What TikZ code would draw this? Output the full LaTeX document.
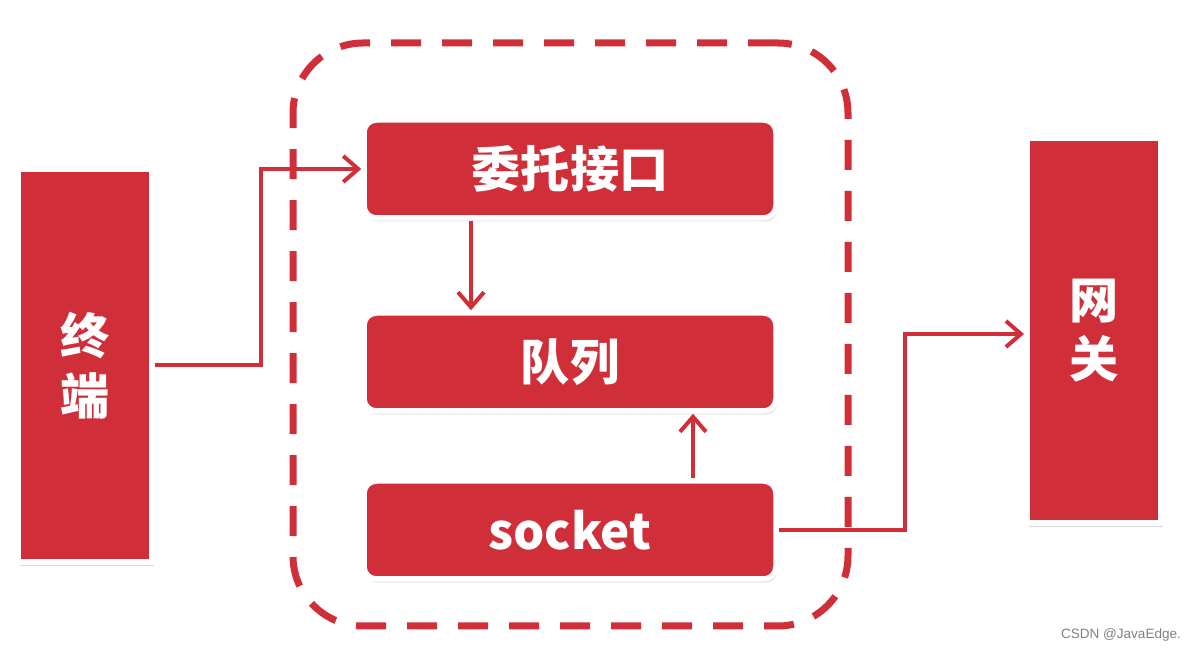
\documentclass[tikz,border=0pt]{standalone}
\usepackage{fontspec}
\usepackage{xcolor}
\usepackage{tikz}
\usetikzlibrary{arrows.meta, positioning, shadows}
\newfontfamily\cjk{Noto Sans CJK SC}
\newfontfamily\wmfont{Liberation Sans}
\definecolor{boxred}{RGB}{208,47,57}

\begin{document}
\begin{tikzpicture}[
  endbox/.style={rectangle, draw=white, line width=0.12cm, fill=boxred, minimum width=2.68cm, align=center, text=white, font=\cjk\bfseries\fontsize{28}{34}\selectfont, drop shadow={shadow xshift=0.03cm, shadow yshift=-0.08cm, opacity=0.3}},
  stage/.style={rectangle, draw=white, line width=0.11cm, rounded corners=7pt, fill=boxred, minimum width=8.24cm, minimum height=1.96cm, align=center, text=white, font=\cjk\bfseries\fontsize{28}{34}\selectfont, drop shadow={shadow xshift=0.03cm, shadow yshift=-0.07cm, opacity=0.3}},
  groupbox/.style={rectangle, draw=boxred, line width=0.14cm, dash pattern=on 0.6cm off 0.42cm, rounded corners=1.4cm, minimum width=11.1cm, minimum height=11.66cm},
  flow/.style={-{Straight Barb[length=3mm, width=5.2mm]}, line width=0.08cm, boxred}
]
\useasboundingbox (0,0) rectangle (23.92,13.02);
\node[groupbox] (grp) at (11.41,6.33) {};
\node[endbox, minimum height=7.86cm] (term) at (1.70,5.71) {终\\端};
\node[endbox, minimum height=7.70cm] (gate) at (21.88,6.41) {网\\关};
\node[stage] (entrust) at (11.40,9.64) {委托接口};
\node[stage] (queue) at (11.40,5.78) {队列};
\node[stage] (sock) at (11.40,2.42) {socket};
\draw[flow] (term.east) -- ++(2.12,0) |- (entrust.west);
\draw[flow] ([xshift=-1.98cm]entrust.south) -- ([xshift=-1.98cm]queue.north);
\draw[flow] ([xshift=2.46cm]sock.north) -- ([xshift=2.46cm]queue.south);
\draw[flow] (sock.east) -- ++(2.52,0) |- ([yshift=-0.07cm]gate.west);
\node[font=\wmfont\fontsize{7.7}{9}\selectfont, text=black!50] (credit) at (22.42,0.32) {CSDN @JavaEdge.};
\end{tikzpicture}
\end{document}
